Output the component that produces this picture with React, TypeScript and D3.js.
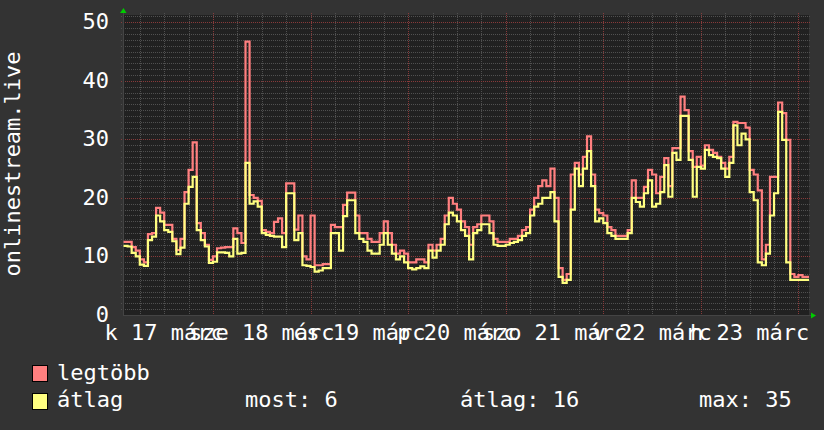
import React from "react";
import * as d3 from "d3";

// ---- data (hourly samples, starting 2020-03-17 02:00) ----
const START = new Date(2020, 2, 17, 2, 0);
const DOMAIN_START = new Date(2020, 2, 17, 1, 52);
const DOMAIN_END = new Date(2020, 2, 24, 2, 36);

const maxValues = [
  12.5, 12.5, 11.6, 11, 9.5, 9, 13.8, 14, 18.3, 17.5,
  15.4, 15.4, 13, 11.1, 13, 21, 24.8, 29.5, 15.7, 14,
  12, 9.4, 10, 11.4, 11.5, 11.6, 11.6, 14.8, 14, 12.3,
  46.7, 20.5, 20, 19.5, 14.5, 14.2, 14, 15.9, 16.5, 14,
  22.5, 22.5, 14.6, 17, 10, 9.5, 17, 8.5, 8.5, 8.7,
  8.7, 15.4, 15, 15, 18.8, 20.9, 20.9, 17, 14, 14,
  13, 12.5, 12.5, 14, 16, 14, 12, 10.5, 11, 10.5,
  9, 9, 9.5, 9.5, 9, 12, 11, 12, 13, 17,
  20, 19, 18, 16, 15, 12, 15, 15.5, 17, 17,
  16, 13, 12.5, 12.5, 12.5, 13, 13, 13.5, 14.5, 15,
  18, 20, 22, 23, 22, 25, 20, 8, 6, 7,
  24, 26, 24, 27, 30.5, 24, 18, 17.4, 17, 15,
  14.5, 13.5, 13.5, 13.5, 14.5, 23, 20, 20, 21.9, 24.8,
  24, 20.8, 23.6, 26.8, 22, 28.5, 28.5, 37.3, 35, 28,
  25.3, 27, 25.5, 29, 28.2, 27.7, 27, 26, 25, 27,
  33, 32.8, 32.8, 32, 24.8, 24, 21.3, 9.5, 12, 23.6,
  23.6, 36.3, 34.5, 29.9, 7, 6.5, 6.8, 6.5, 6.5,
];

const avgValues = [
  11.8, 11.7, 10.6, 10, 8.6, 8.4, 12.8, 13.4, 17, 16,
  14.5, 14.2, 12.6, 10.4, 11.5, 19, 21.9, 23.6, 14.5, 12.8,
  11.7, 8.9, 9.1, 10.7, 10.7, 10.6, 10, 13, 10.5, 10.6,
  26, 19, 19.4, 18.5, 14, 13.7, 13.5, 13.4, 13.4, 11.6,
  20.8, 20.8, 12.8, 14, 8.5, 8.4, 8.2, 7.4, 7.6, 8,
  8, 14, 14, 11, 16.9, 19.6, 19.6, 14, 13, 12.5,
  11, 10.5, 10.5, 12, 14, 12, 10.5, 9.5, 10, 9,
  8, 7.8, 8, 8.3, 8, 11, 9.8, 11, 12, 15.5,
  17.5, 17, 16, 14.5, 13.5, 9.5, 14, 14.5, 15.5, 15.5,
  14, 12, 11.8, 11.8, 12, 12.3, 12.5, 12.8, 13.5, 14,
  17, 18.5, 19, 20, 20, 21, 16, 6.5, 5.5, 6,
  18, 25, 22, 25, 28, 22, 16, 16.5, 15.7, 14,
  13.5, 13, 13, 13, 14, 20, 19.3, 18.5, 20.8, 23,
  18.5, 19, 21, 25.6, 20.2, 27.7, 26.5, 34, 34, 26.5,
  20.2, 25.3, 25, 28.2, 27.3, 27, 26.8, 25, 23.6, 26,
  32.4, 29, 31, 30, 21, 19.6, 9, 8.5, 10.5, 17,
  20.8, 34.7, 29.9, 9, 6, 6, 6, 6, 6,
];

const dayLabels = ["k 17 márc", "sze 18 márc", "cs 19 márc", "p 20 márc", "szo 21 márc", "v 22 márc", "h 23 márc"];
const yTicks = [0, 10, 20, 30, 40, 50];
const seriesNames = ["legtöbb", "átlag"];
const statLabels = ["most: 6", "átlag: 16", "max: 35"];
const TITLE = "onlinestream.live";

const FONT = "DejaVu Sans Mono";
const BG = "#333333";
const CANVAS = "#212121";
const MAX_COLOR = "#ff7f7f";
const AVG_COLOR = "#ffff80";
const MINOR = "#505050";
const MAJOR = "#883a3a";

export default function App() {
  const W = 824, H = 430;
  const L = 123, R = 809, T = 15, B = 315;
  const x = d3.scaleTime().domain([DOMAIN_START, DOMAIN_END]).range([L, R]);
  const y = d3.scaleLinear().domain([0, 50]).range([B, 22.3]);

  const toPts = (vals: number[]) => {
    const pts: [Date, number][] = vals.map((v, i) => [d3.timeHour.offset(START, i), v]);
    pts.push([DOMAIN_END, vals[vals.length - 1]]);
    return pts;
  };
  const line = d3.line<[Date, number]>()
    .x((d) => Math.max(L, x(d[0])))
    .y((d) => y(d[1]))
    .curve(d3.curveStepAfter);

  const hGrid: { v: number; major: boolean }[] = [];
  for (let v = 1; v <= 51; v++) hGrid.push({ v, major: v % 10 === 0 });
  const vGrid = d3.timeHour.every(6)!.range(DOMAIN_START, DOMAIN_END);
  const noons = d3.timeDay.range(new Date(2020, 2, 17), new Date(2020, 2, 24)).map((d) => d3.timeHour.offset(d, 12));

  const px = (v: number) => Math.round(v) + 0.5;

  return (
    <svg width={W} height={H} style={{ position: "absolute", left: 0, top: 0, display: "block" }} fontFamily={FONT}>
      <rect x={0} y={0} width={W} height={H} fill={BG} />
      <rect x={L} y={T} width={R - L} height={B - T} fill={CANVAS} />
      {/* horizontal grid */}
      {hGrid.filter((g) => !g.major).map((g) => (
        <line key={"h" + g.v} x1={L - 2} x2={R + 2} y1={px(y(g.v))} y2={px(y(g.v))} stroke={MINOR} strokeWidth={1} strokeDasharray="1,1" />
      ))}
      {vGrid.map((d, i) => {
        const major = d.getHours() === 0;
        return (
          <line key={"v" + i} x1={px(x(d))} x2={px(x(d))} y1={T - 2} y2={B + 2} stroke={major ? MAJOR : MINOR} strokeWidth={1} strokeDasharray="1,1" />
        );
      })}
      {hGrid.filter((g) => g.major).map((g) => (
        <line key={"H" + g.v} x1={L - 2} x2={R + 2} y1={px(y(g.v))} y2={px(y(g.v))} stroke={MAJOR} strokeWidth={1} strokeDasharray="1,1" />
      ))}
      {/* axes */}
      <line x1={L + 0.5} x2={L + 0.5} y1={T - 2} y2={B + 1} stroke="#444" />
      <line x1={L} x2={R + 3} y1={B + 0.5} y2={B + 0.5} stroke="#444" />
      <path d={`M${L - 3},${T - 2} L${L + 0.5 + 3},${T - 2} L${L + 0.5},${T - 7} Z`} fill="#00cc00" />
      <path d={`M${R + 2},${B + 0.5 - 3} L${R + 2},${B + 0.5 + 3} L${R + 7},${B + 0.5} Z`} fill="#00cc00" />
      {/* series */}
      <path d={line(toPts(maxValues)) || ""} fill="none" stroke={MAX_COLOR} strokeWidth={2.2} />
      <path d={line(toPts(avgValues)) || ""} fill="none" stroke={AVG_COLOR} strokeWidth={2.2} />
      {/* y tick labels */}
      {yTicks.map((t) => (
        <text key={"yt" + t} x={109} y={y(t) + 7} textAnchor="end" fontSize={22} fill="#ffffff">{t}</text>
      ))}
      {/* x labels (overlapping, as in the original rendering) */}
      {noons.map((d, i) => (
        <text key={"xl" + i} x={x(d)} y={340} textAnchor="middle" fontSize={22} fill="#ffffff">{dayLabels[i]}</text>
      ))}
      {/* title */}
      <text transform="translate(20,164) rotate(-90)" textAnchor="middle" fontSize={22} fill="#ffffff">{TITLE}</text>
      {/* legend */}
      <rect x={32.5} y={365.5} width={15} height={16} fill={MAX_COLOR} stroke="#000" />
      <text x={57} y={380} fontSize={22} fill="#ffffff">{seriesNames[0]}</text>
      <rect x={32.5} y={393.5} width={15} height={16} fill={AVG_COLOR} stroke="#000" />
      <text x={57} y={407} fontSize={22} fill="#ffffff">{seriesNames[1]}</text>
      <text x={245} y={407} fontSize={22} fill="#ffffff">{statLabels[0]}</text>
      <text x={460} y={407} fontSize={22} fill="#ffffff">{statLabels[1]}</text>
      <text x={699} y={407} fontSize={22} fill="#ffffff">{statLabels[2]}</text>
    </svg>
  );
}
